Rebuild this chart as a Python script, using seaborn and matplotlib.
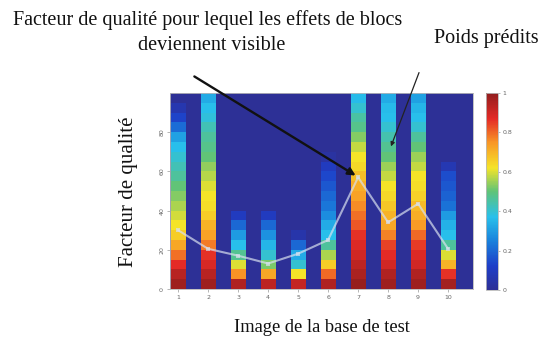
import numpy as np
import pandas as pd
import matplotlib
matplotlib.use("Agg")
import matplotlib.pyplot as plt
from matplotlib.colors import LinearSegmentedColormap
import seaborn as sns

# ---- data ----
images = [1, 2, 3, 4, 5, 6, 7, 8, 9, 10]
quality_bins = [2.5, 7.5, 12.5, 17.5, 22.5, 27.5, 32.5, 37.5, 42.5, 47.5,
                52.5, 57.5, 62.5, 67.5, 72.5, 77.5, 82.5, 87.5, 92.5, 97.5]
img1 = [0.98, 0.94, 0.87, 0.79, 0.72, 0.66, 0.62, 0.59, 0.56, 0.53,
        0.50, 0.46, 0.43, 0.40, 0.37, 0.31, 0.21, 0.13, 0.06, 0.0]
img2 = [0.98, 0.94, 0.89, 0.86, 0.78, 0.73, 0.70, 0.66, 0.63, 0.62,
        0.60, 0.57, 0.54, 0.50, 0.48, 0.46, 0.43, 0.39, 0.37, 0.33]
img3 = [0.95, 0.75, 0.60, 0.47, 0.37, 0.30, 0.20, 0.10, 0.0, 0.0,
        0.0, 0.0, 0.0, 0.0, 0.0, 0.0, 0.0, 0.0, 0.0, 0.0]
img4 = [0.93, 0.72, 0.52, 0.40, 0.35, 0.28, 0.20, 0.10, 0.0, 0.0,
        0.0, 0.0, 0.0, 0.0, 0.0, 0.0, 0.0, 0.0, 0.0, 0.0]
img5 = [0.92, 0.62, 0.40, 0.33, 0.20, 0.05, 0.0, 0.0, 0.0, 0.0,
        0.0, 0.0, 0.0, 0.0, 0.0, 0.0, 0.0, 0.0, 0.0, 0.0]
img6 = [0.95, 0.80, 0.66, 0.56, 0.46, 0.37, 0.33, 0.27, 0.23, 0.20,
        0.17, 0.14, 0.10, 0.03, 0.0, 0.0, 0.0, 0.0, 0.0, 0.0]
img7 = [0.99, 0.96, 0.93, 0.90, 0.88, 0.86, 0.82, 0.79, 0.76, 0.73,
        0.71, 0.68, 0.64, 0.62, 0.58, 0.53, 0.48, 0.45, 0.40, 0.36]
img8 = [0.98, 0.95, 0.90, 0.87, 0.84, 0.77, 0.72, 0.70, 0.67, 0.64,
        0.62, 0.58, 0.55, 0.50, 0.47, 0.44, 0.40, 0.37, 0.36, 0.33]
img9 = [0.98, 0.95, 0.90, 0.88, 0.85, 0.80, 0.74, 0.71, 0.69, 0.65,
        0.63, 0.62, 0.58, 0.55, 0.50, 0.46, 0.40, 0.37, 0.35, 0.31]
img10 = [0.97, 0.86, 0.70, 0.60, 0.46, 0.37, 0.34, 0.30, 0.22, 0.19,
         0.17, 0.15, 0.07, 0.0, 0.0, 0.0, 0.0, 0.0, 0.0, 0.0]
predicted = [30, 20.5, 17, 13, 18, 25, 57, 34, 43.5, 20.5]
y_ticks = [0, 20, 40, 60, 80]
cbar_ticks = [0, 0.2, 0.4, 0.6, 0.8, 1]
cbar_labels = ["0", "0.2", "0.4", "0.6", "0.8", "1"]

columns = [img1, img2, img3, img4, img5, img6, img7, img8, img9, img10]

# grid: 22 half-unit columns, bars on odd columns, background (0) on even ones
grid = np.zeros((len(quality_bins), 22))
for i, col in zip(images, columns):
    grid[:, 2 * i - 1] = col
df = pd.DataFrame(grid, index=quality_bins)

# jet-like colormap matching the washed tones of the reference
stops = [(0.00, (45, 48, 150)), (0.12, (30, 62, 200)), (0.25, (25, 130, 220)),
         (0.37, (40, 192, 235)), (0.50, (95, 195, 120)), (0.62, (245, 228, 40)),
         (0.75, (248, 150, 38)), (0.87, (228, 42, 38)), (1.00, (145, 30, 30))]
cmap = LinearSegmentedColormap.from_list(
    "jetlike", [(p, tuple(c / 255 for c in rgb)) for p, rgb in stops])

sns.set_style("white")
plt.rcParams['font.family'] = ['Liberation Serif', 'DejaVu Serif']

fig = plt.figure(figsize=(5.47, 3.43), dpi=100)
ax = fig.add_axes([170 / 547, 1 - 289 / 343, (473 - 170) / 547, (289 - 93) / 343])
cax = fig.add_axes([486 / 547, 1 - 290 / 343, 12 / 547, (290 - 93) / 343])

sns.heatmap(df, cmap=cmap, vmin=0, vmax=1, ax=ax, cbar_ax=cax,
            xticklabels=False, yticklabels=False)

ax.set_ylim(0, len(quality_bins))
ax.set_xlim(0.96, 21.16)

# predicted weights line (positions in cell coordinates)
px = [2 * i - 0.5 for i in images]
py = [p / 5 for p in predicted]
sns.lineplot(x=px, y=py, ax=ax, color="#d8e0ee", alpha=0.7, linewidth=1.5,
             marker="s", markersize=2.5, markeredgewidth=0, legend=False)

ax.set_xticks([2 * i - 0.5 for i in images])
ax.set_xticklabels([str(i) for i in images], fontsize=4.5, color="#666666",
                   family="DejaVu Sans")
ax.set_yticks([t / 5 for t in y_ticks])
ax.set_yticklabels([str(t) for t in y_ticks], fontsize=4.5, color="#666666",
                   rotation=90, va="center", family="DejaVu Sans")
ax.tick_params(axis="both", length=2, width=0.5, color="#999999", pad=2,
               direction="out", left=True, bottom=True)
for s in ax.spines.values():
    s.set_visible(True)
    s.set_color("#b8b8b8")
    s.set_linewidth(0.6)

ax.set_xlabel("")
ax.set_ylabel("")

cb = ax.collections[0].colorbar
cb.set_ticks(cbar_ticks)
cb.set_ticklabels(cbar_labels)
cb.ax.tick_params(labelsize=4.5, labelcolor="#666666", length=1.5, width=0.5,
                  color="#999999", pad=1.5)
for l in cb.ax.get_yticklabels():
    l.set_family("DejaVu Sans")
cb.outline.set_visible(True)
cb.outline.set_edgecolor("#b8b8b8")
cb.outline.set_linewidth(0.6)

# texts
fig.text(208 / 547, 1 - 20 / 343, "Facteur de qualité pour lequel les effets de blocs",
         ha="center", va="center", fontsize=14.5, color="#111111")
fig.text(212 / 547, 1 - 46 / 343, "deviennent visible",
         ha="center", va="center", fontsize=14.5, color="#111111")
fig.text(486 / 547, 1 - 38 / 343, "Poids prédits",
         ha="center", va="center", fontsize=14.5, color="#111111")
fig.text(128 / 547, 1 - 192 / 343, "Facteur de qualité", rotation=90,
         ha="center", va="center", fontsize=15, color="#111111")
fig.text(322 / 547, 1 - 328 / 343, "Image de la base de test",
         ha="center", va="center", fontsize=13.3, color="#111111")

# arrows
fig.add_artist(matplotlib.patches.FancyArrowPatch(
    (192 / 547, 1 - 75 / 343), (358 / 547, 1 - 177 / 343),
    transform=fig.transFigure, arrowstyle="-|>", mutation_scale=11,
    color="#111111", linewidth=1.7))
fig.add_artist(matplotlib.patches.FancyArrowPatch(
    (420 / 547, 1 - 70 / 343), (390 / 547, 1 - 149 / 343),
    transform=fig.transFigure, arrowstyle="-|>", mutation_scale=6,
    color="#222222", linewidth=0.9))

fig.savefig("out.png", dpi=100)
